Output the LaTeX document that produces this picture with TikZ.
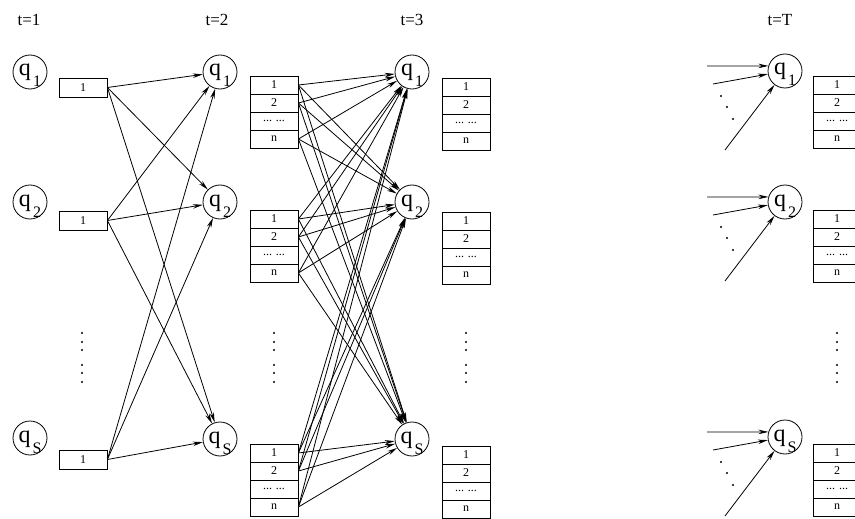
\documentclass[tikz,border=0pt]{standalone}
\usepackage{fontspec}
\setmainfont{Liberation Serif}
\usetikzlibrary{arrows.meta,matrix}

\tikzset{
  state/.style={draw, circle, minimum size=34pt, inner sep=0pt},
  onebox/.style={draw, minimum width=48pt, minimum height=19pt, inner sep=0pt,
                 font=\fontsize{12}{12}\selectfont},
  stack/.style={matrix of nodes, row sep=-\pgflinewidth,
                nodes={draw, minimum width=48pt, minimum height=18pt, inner sep=0pt,
                       anchor=center, font=\fontsize{12}{12}\selectfont}},
  timelabel/.style={font=\fontsize{17}{17}\selectfont},
  trans/.style={-{Stealth[length=10pt,width=4.5pt]}},
}
\newcommand{\qlab}[1]{\smash{\raisebox{-4pt}{\fontsize{24}{24}\selectfont q\kern2pt\raisebox{-11pt}{\fontsize{16}{16}\selectfont #1}}}}

\begin{document}
\begin{tikzpicture}[x=1pt, y=-1pt, line width=0.8pt]
  \useasboundingbox (0,0) rectangle (855,519);

  % time steps
  \node[timelabel] (t1) at (29,20) {t=1};
  \node[timelabel] (t2) at (217,20) {t=2};
  \node[timelabel] (t3) at (412,20) {t=3};
  \node[timelabel] (tT) at (780,20) {t=T};

  % t=1
  \foreach \i/\y in {1/72, 2/202, S/438}
    \node[state] (a\i) at (30,\y) {\qlab{\i}};
  \foreach \i/\y in {1/87.5, 2/220.5, S/459.5}
    \node[onebox] (ba\i) at (83,\y) {1};

  % t=2
  \foreach \i/\y in {1/72, 2/202, S/439}
    \node[state] (b\i) at (220,\y) {\qlab{\i}};
  \foreach \i/\y in {1/112, 2/246, S/480}
    \matrix (sb\i) at (274,\y) [stack] { 1 \\ 2 \\ {... ...} \\ n \\ };

  % t=3
  \foreach \i/\y in {1/72, 2/202, S/439}
    \node[state] (c\i) at (412,\y) {\qlab{\i}};
  \foreach \i/\y in {1/114, 2/248, S/482}
    \matrix (sc\i) at (466,\y) [stack] { 1 \\ 2 \\ {... ...} \\ n \\ };

  % t=T
  \foreach \i/\y in {1/71, 2/202, S/437}
    \node[state] (d\i) at (785,\y) {\qlab{\i}};
  \foreach \i/\y in {1/112, 2/246, S/480}
    \matrix (sd\i) at (837,\y) [stack] { 1 \\ 2 \\ {... ...} \\ n \\ };

  % transitions
  \foreach \i in {1,2,S}
    \foreach \j in {1,2,S}
      \draw[trans] (ba\i.east) -- (b\j);
  \foreach \i in {1,2,S}
    \foreach \r in {1,2,4}
      \foreach \j in {1,2,S}
        \draw[trans] (sb\i-\r-1.east) -- (c\j);

  % incoming at t=T
  \foreach \i/\y in {1/71, 2/202, S/437} {
    \coordinate (ina\i) at (707,\y-5);
    \coordinate (inb\i) at (713,\y+13);
    \coordinate (inc\i) at (725,\y+79);
    \draw[trans] (ina\i) -- (d\i.163);
    \draw[trans] (inb\i) -- (d\i);
    \draw[trans] (inc\i) -- (d\i);
    \foreach \dx/\dy in {721/25, 727/36, 733/48}
      \fill (\dx,\y+\dy) circle (1.1pt);
  }

  % vertical dots
  \foreach \x in {82,274,466,837}
    \foreach \y in {333,342,350,365,373,382}
      \fill (\x,\y) circle (1.2pt);
\end{tikzpicture}
\end{document}
